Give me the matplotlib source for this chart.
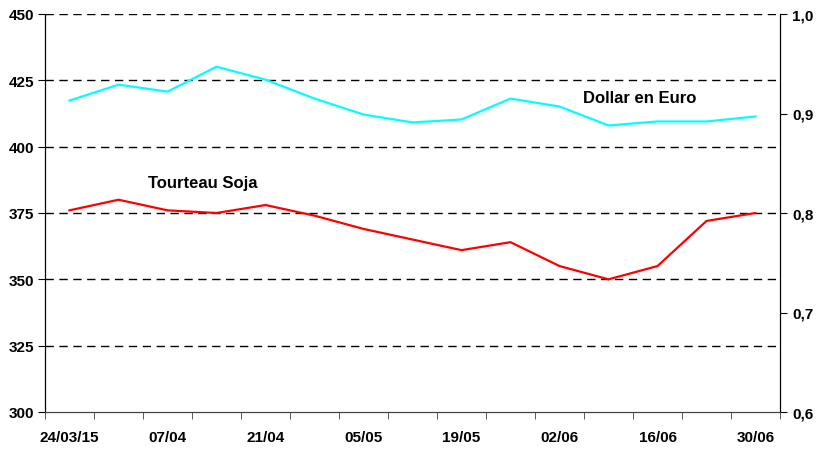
import numpy as np
import matplotlib.pyplot as plt
from matplotlib.ticker import FixedLocator, FixedFormatter

plt.rcParams['font.family'] = ['Liberation Sans', 'DejaVu Sans']
plt.rcParams['font.weight'] = 'bold'

semaines = ["24/03/15", "31/03", "07/04", "14/04", "21/04", "28/04", "05/05", "12/05",
            "19/05", "26/05", "02/06", "09/06", "16/06", "23/06", "30/06"]
tourteau_soja = [376, 380, 376, 375, 378, 374, 369, 365, 361, 364, 355, 350, 355, 372, 375]
dollar_euro = [0.913, 0.929, 0.922, 0.947, 0.934, 0.915, 0.899, 0.891, 0.894, 0.915,
               0.907, 0.888, 0.892, 0.892, 0.897]
ticks_gauche = [300, 325, 350, 375, 400, 425, 450]
ticks_droite = [0.6, 0.7, 0.8, 0.9, 1.0]
labels_droite = ["0,6", "0,7", "0,8", "0,9", "1,0"]

x = np.arange(len(semaines))

fig = plt.figure(figsize=(8.17, 4.52), dpi=100)
ax = fig.add_axes([45 / 817, 39 / 452, 735 / 817, 398 / 452])
ax2 = ax.twinx()

# grille pointillée
for v in ticks_gauche[1:]:
    ax.axhline(v, color='black', lw=1, linestyle=(0, (6, 4)), zorder=1)

ax.plot(x, tourteau_soja, color='#ff0000', lw=1.6, zorder=3)
ax2.plot(x, dollar_euro, color='#00ffff', lw=1.6, zorder=3)

ax.set_xlim(-0.5, len(semaines) - 0.5)
ax.set_ylim(300, 450)
ax2.set_ylim(0.6, 1.0)

ax.set_yticks(ticks_gauche)
ax.set_yticklabels([str(t) for t in ticks_gauche], fontsize=11, fontweight='bold')
ax2.yaxis.set_major_locator(FixedLocator(ticks_droite))
ax2.yaxis.set_major_formatter(FixedFormatter(labels_droite))
for lab in ax2.get_yticklabels():
    lab.set_fontsize(11)
    lab.set_fontweight('bold')

# axe des x : traits entre les catégories, étiquettes une semaine sur deux
ax.xaxis.set_minor_locator(FixedLocator(np.arange(-0.5, len(semaines), 1.0)))
ax.set_xticks(x[::2])
ax.set_xticklabels(semaines[::2], fontsize=11, fontweight='bold')
ax.tick_params(axis='x', which='major', length=0, pad=13)
ax.tick_params(axis='x', which='minor', length=5, direction='out', color='#404040')
ax.tick_params(axis='y', length=5, direction='out', pad=3)
ax2.tick_params(axis='y', length=5, direction='out', pad=4)

ax.spines['top'].set_visible(False)
ax2.spines['top'].set_visible(False)
for a in (ax, ax2):
    a.spines['left'].set_color('black')
    a.spines['right'].set_color('black')
    a.spines['bottom'].set_color('#404040')

ax.text(2.72, 386.6, "Tourteau Soja", fontsize=12, fontweight='bold', ha='center', va='center')
ax2.text(11.64, 0.916, "Dollar en Euro", fontsize=12, fontweight='bold', ha='center', va='center')

fig.savefig("out.png", dpi=100)
